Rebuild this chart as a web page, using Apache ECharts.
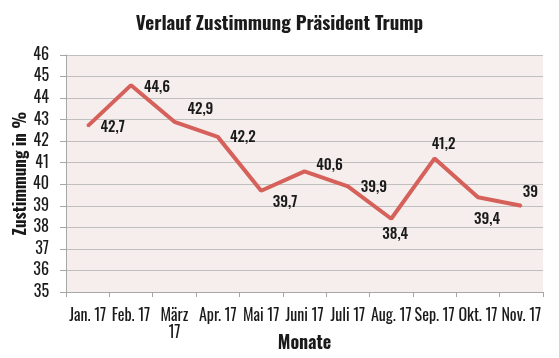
<!DOCTYPE html>
<html>
<head>
<meta charset="utf-8">
<script src="https://cdn.jsdelivr.net/npm/echarts@6/dist/echarts.min.js"></script>
<style>
html,body{margin:0;padding:0;background:#fff;}
#c{width:559px;height:358px;}
</style>
</head>
<body>
<div id="c"></div>
<script>
var categories = ['Jan. 17','Feb. 17','März 17','Apr. 17','Mai 17','Juni 17','Juli 17','Aug. 17','Sep. 17','Okt. 17','Nov. 17'];
var values = [42.7, 44.6, 42.9, 42.2, 39.7, 40.6, 39.9, 38.4, 41.2, 39.4, 39];
var yTicks = {min: 35, max: 46, interval: 1};
// label offsets (label centre relative to point), styling only
var labelOffsets = [[25,1],[26,2],[26,-12],[25,1],[24,12],[25,-6],[26,1],[4,16],[9,-14],[9,22],[9,-13]];

var FONT = 'Oswald, "Roboto Condensed", sans-serif';
var chart = echarts.init(document.getElementById('c'));
chart.setOption({
  animation: false,
  title: {
    text: 'Verlauf Zustimmung Präsident Trump',
    left: 'center', top: 10,
    textStyle: {fontFamily: FONT, fontSize: 19, fontWeight: 'bold', color: '#1a1a1a'}
  },
  grid: {left: 66, right: 16, top: 55, bottom: 66, show: true, backgroundColor: '#f6eeed', borderWidth: 0,
         containLabel: false, outerBoundsMode: 'none'},
  xAxis: {
    type: 'category',
    data: categories,
    boundaryGap: true,
    name: 'Monate', nameLocation: 'middle', nameGap: 43, nameMoveOverlap: false,
    nameTextStyle: {fontFamily: FONT, fontSize: 18, fontWeight: 'bold', color: '#1a1a1a'},
    axisLine: {lineStyle: {color: '#a6a6a6', width: 1}},
    axisTick: {show: true, alignWithLabel: false, length: 5, lineStyle: {color: '#a6a6a6'}},
    axisLabel: {
      interval: 0, margin: 16,
      fontFamily: FONT, fontSize: 16, color: '#1a1a1a', lineHeight: 17,
      formatter: function (v) { return v === 'März 17' ? 'März\n17' : v; }
    },
    splitLine: {show: false}
  },
  yAxis: {
    type: 'value',
    min: yTicks.min, max: yTicks.max, interval: yTicks.interval,
    name: 'Zustimmung in %', nameLocation: 'middle', nameGap: 37, nameRotate: 90, nameMoveOverlap: false,
    nameTextStyle: {fontFamily: FONT, fontSize: 17, fontWeight: 'bold', color: '#1a1a1a'},
    axisLine: {show: true, lineStyle: {color: '#a6a6a6', width: 1}},
    axisTick: {show: true, length: 6, lineStyle: {color: '#a6a6a6'}},
    axisLabel: {fontFamily: FONT, fontSize: 16, color: '#1a1a1a', margin: 17},
    splitLine: {lineStyle: {color: '#bfbfbf', width: 1}}
  },
  series: [{
    type: 'line',
    data: values.map(function (v, i) {
      return {value: v, label: {offset: labelOffsets[i]}};
    }),
    symbol: 'circle', symbolSize: 2,
    itemStyle: {color: '#d6605a'},
    lineStyle: {color: '#d6605a', width: 4},
    label: {
      show: true, position: 'inside', align: 'center', verticalAlign: 'middle',
      fontFamily: FONT, fontSize: 15, fontWeight: 500, color: '#1a1a1a',
      formatter: function (p) { return String(p.value).replace('.', ','); }
    }
  }]
});
</script>
</body>
</html>
